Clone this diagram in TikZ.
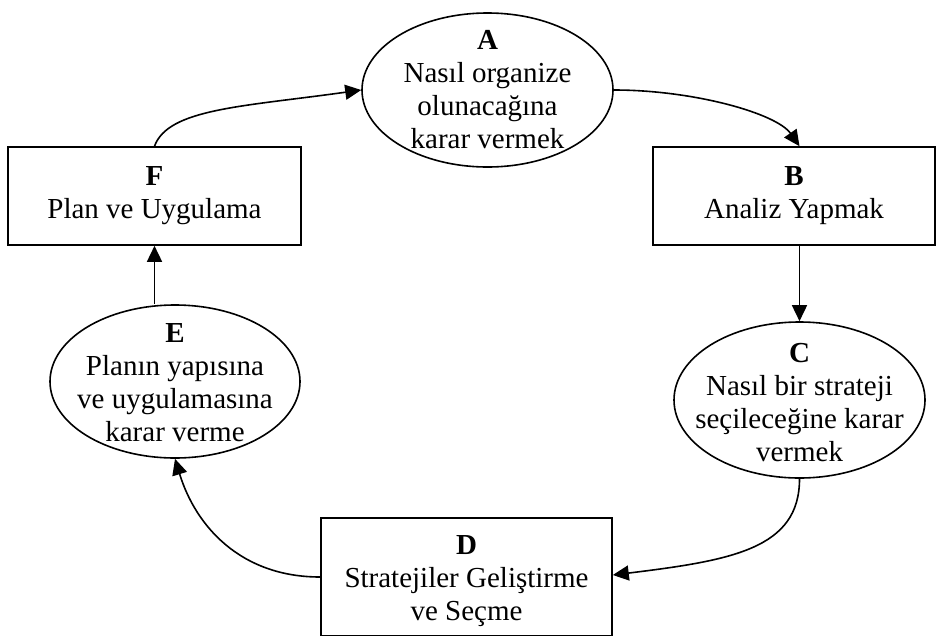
\documentclass[tikz,border=0pt]{standalone}
\usepackage{fontspec}
\setmainfont{Liberation Serif}
\usetikzlibrary{shapes.geometric,arrows.meta}
\begin{document}
\begin{tikzpicture}[x=1pt,y=1pt,
  every node/.style={font=\fontsize{29}{33}\selectfont},
  oval/.style={draw, ellipse, line width=1.6pt, inner sep=0pt},
  box/.style={draw, rectangle, line width=1.6pt, inner sep=0pt, align=center},
  txt/.style={align=center, inner sep=0pt},
  link/.style={line width=1.6pt, -{Triangle[length=16pt,width=15pt]}}
]
\useasboundingbox (0,0) rectangle (936,-635);
\clip (0,0) rectangle (936,-635);
\fill[white] (0,0) rectangle (936,-635);

% steps of the cycle
\node[oval, minimum width=251pt, minimum height=154pt] (A) at (487.5,-90) {};
\node[txt] (At) at (A) {\textbf{A}\\Nasıl organize\\olunacağına\\karar vermek};

\node[box, minimum width=282pt, minimum height=98pt] (B) at (794,-196)
  {\textbf{B}\\Analiz Yapmak};

\node[oval, minimum width=251pt, minimum height=156pt] (C) at (799.5,-400) {};
\node[txt] (Ct) at ([yshift=-3pt]C.center) {\textbf{C}\\Nasıl bir strateji\\seçileceğine karar\\vermek};

\node[box, minimum width=291pt, minimum height=118pt] (D) at (466.5,-577) {};
\node[txt] (Dt) at (466.5,-581) {\textbf{D}\\Stratejiler Geliştirme\\ve Seçme};

\node[oval, minimum width=250pt, minimum height=153pt] (E) at (175,-381.5) {};
\node[txt] (Et) at ([yshift=-1pt]E.center) {\textbf{E}\\Planın yapısına\\ve uygulamasına\\karar verme};

\node[box, minimum width=293pt, minimum height=98pt] (F) at (154.5,-196)
  {\textbf{F}\\Plan ve Uygulama};

% connectors
\draw[link] (F.north) .. controls +(70:40) and +(188:120) .. (A.west);
\draw[link] (A.east) .. controls +(0:80) and +(125:40) .. (B.north -| C.north);
\draw[link] (B.south -| C.north) -- (C.north);
\draw[link] (C.south) .. controls +(-90:70) and +(7:120) .. ([yshift=2pt]D.east);
\draw[link] (D.west) .. controls +(180:80) and +(-73:70) .. (E.south);
\draw[link] (F.south |- E.north) -- (F.south);
\end{tikzpicture}
\end{document}
